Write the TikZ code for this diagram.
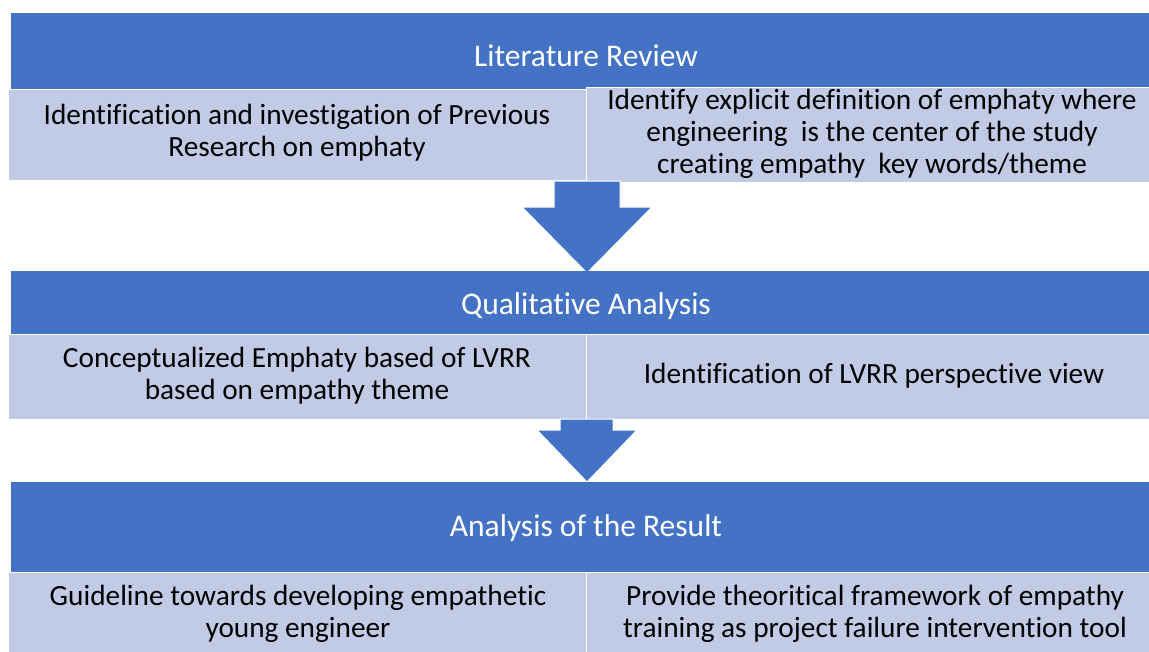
\documentclass[tikz,border=0pt]{standalone}
\usepackage{fontspec}
\setmainfont{Carlito}[RawFeature=-liga]
\definecolor{hblue}{RGB}{68,114,196}
\definecolor{sblue}{RGB}{194,203,230}
\begin{document}
\begin{tikzpicture}[x=1pt,y=-1pt,
  box/.style={anchor=north west, inner sep=0pt, outer sep=0pt},
  hdr/.style={box, fill=hblue},
  sub/.style={box, fill=sblue, draw=white, line width=0.8pt},
  htext/.style={text=white, inner sep=0pt, font=\fontsize{31.5}{32}\selectfont},
  stext/.style={text=black, inner sep=0pt, align=center, font=\fontsize{29.3}{32}\selectfont},
  barrow/.style={fill=hblue, draw=white, line width=1pt, line join=miter}]
\useasboundingbox (0,0) rectangle (1149,651);
% first stage
\node[hdr, minimum width=1138pt, minimum height=76pt] (h1) at (11,13) {};
\node[sub, minimum width=578pt, minimum height=91pt] (s1l) at (8,89) {};
\node[sub, minimum width=563pt, minimum height=95pt] (s1r) at (586,87) {};
\node[htext] (t1) at (586,56) {Literature Review};
\node[stext] (t1l) at (297,133) {Identification and investigation of Previous\\Research on emphaty};
\node[stext] (t1r) at (872,134) {Identify explicit definition of emphaty where\\engineering\ \ is the center of the study\\creating empathy\ \ key words/theme};
% arrow 1
\path[barrow] (554,181) -- (620,181) -- (620,207) -- (652,207) -- (587,273) -- (522,207) -- (554,207) -- cycle;
% second stage
\node[hdr, minimum width=1138pt, minimum height=63pt] (h2) at (11,271) {};
\node[sub, minimum width=578pt, minimum height=85pt] (s2l) at (8,334) {};
\node[sub, minimum width=563pt, minimum height=85pt] (s2r) at (586,334) {};
\node[htext] (t2) at (586,306) {Qualitative Analysis};
\node[stext] (t2l) at (297,376) {Conceptualized Emphaty based of LVRR\\based on empathy theme};
\node[stext] (t2r) at (874,376) {Identification of LVRR perspective view};
% arrow 2
\path[barrow] (560,419) -- (613,419) -- (613,430) -- (637,430) -- (587,482) -- (537,430) -- (560,430) -- cycle;
% third stage
\node[hdr, minimum width=1138pt, minimum height=90pt] (h3) at (11,482) {};
\node[sub, minimum width=578pt, minimum height=80pt] (s3l) at (8,572) {};
\node[sub, minimum width=563pt, minimum height=80pt] (s3r) at (586,572) {};
\node[htext] (t3) at (586,528) {Analysis of the Result};
\node[stext] (t3l) at (298,614) {Guideline towards developing empathetic\\young engineer};
\node[stext] (t3r) at (875,614) {Provide theoritical framework of empathy\\training as project failure intervention tool};
\end{tikzpicture}
\end{document}
